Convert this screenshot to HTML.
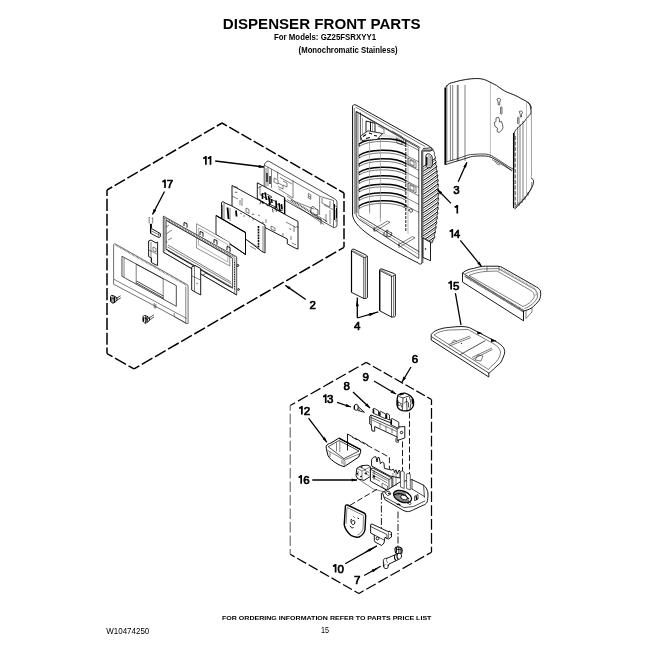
<!DOCTYPE html>
<html><head><meta charset="utf-8"><style>
html,body{margin:0;padding:0;background:#fff;}
body{width:650px;height:650px;overflow:hidden;position:relative;}
svg{position:absolute;left:0;top:0;filter:grayscale(1) blur(0.35px);}
text{font-family:"Liberation Sans",sans-serif;fill:#000;}
.l{fill:none;stroke:#000;stroke-width:0.9;stroke-linejoin:round;stroke-linecap:round;}
.m{fill:none;stroke:#000;stroke-width:0.7;stroke-linejoin:round;stroke-linecap:round;}
.t{fill:none;stroke:#000;stroke-width:0.5;}
.g{fill:none;stroke:#777;stroke-width:0.6;}
.w{fill:#fff;stroke:#000;stroke-width:0.9;stroke-linejoin:round;}
.k{fill:#000;stroke:none;}
.d{fill:none;stroke:#000;stroke-width:1.5;stroke-dasharray:11,3;}
.dd{fill:none;stroke:#000;stroke-width:0.9;stroke-dasharray:6,2.5;}
.dc{fill:none;stroke:#000;stroke-width:0.9;stroke-dasharray:7,2,1.5,2;}
.a{fill:none;stroke:#000;stroke-width:1.3;}
.n{font-size:11.5px;stroke:#000;stroke-width:0.7;}
</style></head><body>
<svg width="650" height="650" viewBox="0 0 650 650">
<defs>
<marker id="ah" viewBox="0 0 10 6" refX="10" refY="3" markerWidth="8" markerHeight="3.2" orient="auto" markerUnits="userSpaceOnUse"><path d="M0,0 L10,3 L0,6 Z" fill="#000"/></marker>
</defs>
<g id="text">
<text x="222.8" y="29" font-size="14.7" font-weight="bold" textLength="197.8" lengthAdjust="spacingAndGlyphs">DISPENSER FRONT PARTS</text>
<text x="274" y="40.4" font-size="8.7" font-weight="bold" textLength="102" lengthAdjust="spacingAndGlyphs">For Models: GZ25FSRXYY1</text>
<text x="298.6" y="53.4" font-size="8.7" font-weight="bold" textLength="99" lengthAdjust="spacingAndGlyphs">(Monochromatic Stainless)</text>
<text x="222" y="619.8" font-size="6.2" font-weight="bold" textLength="209.4" lengthAdjust="spacingAndGlyphs">FOR ORDERING INFORMATION REFER TO PARTS PRICE LIST</text>
<text x="106.3" y="633.5" font-size="8.5" textLength="43" lengthAdjust="spacingAndGlyphs">W10474250</text>
<text x="321" y="633.3" font-size="8.5" textLength="8" lengthAdjust="spacingAndGlyphs">15</text>
</g>
<g id="labels"><path d="M205.90,164.7 L205.90,156.00 M205.90,156.60 C205.40,157.60 204.00,158.20 203.20,158.30" stroke="#000" stroke-width="1.7" fill="none"/><path d="M210.50,164.7 L210.50,156.00 M210.50,156.60 C210.00,157.60 208.60,158.20 207.80,158.30" stroke="#000" stroke-width="1.7" fill="none"/><path d="M165.00,188.1 L165.00,179.40 M165.00,180.00 C164.50,181.00 163.10,181.60 162.30,181.70" stroke="#000" stroke-width="1.7" fill="none"/><text class="n" x="166.75" y="188.1">7</text><text class="n" x="309.55" y="309.2">2</text><text class="n" x="453.25" y="193.7">3</text><path d="M457.30,213.6 L457.30,204.90 M457.30,205.50 C456.80,206.50 455.40,207.10 454.60,207.20" stroke="#000" stroke-width="1.7" fill="none"/><path d="M452.30,237.8 L452.30,229.10 M452.30,229.70 C451.80,230.70 450.40,231.30 449.60,231.40" stroke="#000" stroke-width="1.7" fill="none"/><text class="n" x="453.65" y="237.8">4</text><path d="M451.10,289.5 L451.10,280.80 M451.10,281.40 C450.60,282.40 449.20,283.00 448.40,283.10" stroke="#000" stroke-width="1.7" fill="none"/><text class="n" x="453.05" y="289.5">5</text><text class="n" x="353.95" y="330.0">4</text><text class="n" x="411.85" y="363.0">6</text><text class="n" x="362.45" y="381.0">9</text><text class="n" x="343.45" y="390.0">8</text><path d="M325.70,403.0 L325.70,394.30 M325.70,394.90 C325.20,395.90 323.80,396.50 323.00,396.60" stroke="#000" stroke-width="1.7" fill="none"/><text class="n" x="327.05" y="403.0">3</text><path d="M301.90,414.6 L301.90,405.90 M301.90,406.50 C301.40,407.50 300.00,408.10 299.20,408.20" stroke="#000" stroke-width="1.7" fill="none"/><text class="n" x="303.65" y="414.6">2</text><path d="M301.20,483.8 L301.20,475.10 M301.20,475.70 C300.70,476.70 299.30,477.30 298.50,477.40" stroke="#000" stroke-width="1.7" fill="none"/><text class="n" x="303.25" y="483.8">6</text><path d="M335.60,572.6 L335.60,563.90 M335.60,564.50 C335.10,565.50 333.70,566.10 332.90,566.20" stroke="#000" stroke-width="1.7" fill="none"/><text class="n" x="337.45" y="572.6">0</text><text class="n" x="354.05" y="583.7">7</text></g>
<g id="dash"><path d="M222,123 L344,193" fill="none" stroke="#000" stroke-width="1.5" stroke-dasharray="11.405,2.661" stroke-dashoffset="5.702"/><path d="M344,193 L344,247.3" fill="none" stroke="#000" stroke-width="1.5" stroke-dasharray="11.007,2.568" stroke-dashoffset="5.503"/><path d="M344,247.3 L134,368.9" fill="none" stroke="#000" stroke-width="1.5" stroke-dasharray="12.297,2.869" stroke-dashoffset="6.149"/><path d="M134,368.9 L107,353.6" fill="none" stroke="#000" stroke-width="1.5" stroke-dasharray="12.581,2.936" stroke-dashoffset="6.291"/><path d="M107,353.6 L107,190" fill="none" stroke="#000" stroke-width="1.5" stroke-dasharray="12.059,2.814" stroke-dashoffset="6.029"/><path d="M107,190 L222,123" fill="none" stroke="#000" stroke-width="1.5" stroke-dasharray="11.990,2.798" stroke-dashoffset="5.995"/><path d="M366.2,362.4 L431.5,399.5" fill="none" stroke="#000" stroke-width="1.25" stroke-dasharray="9.736,2.782" stroke-dashoffset="4.868"/><path d="M431.5,399.5 L431.5,552.2" fill="none" stroke="#000" stroke-width="1.25" stroke-dasharray="10.797,3.085" stroke-dashoffset="5.398"/><path d="M431.5,552.2 L358.9,593.5" fill="none" stroke="#000" stroke-width="1.25" stroke-dasharray="10.827,3.094" stroke-dashoffset="5.414"/><path d="M358.9,593.5 L290.2,554.3" fill="none" stroke="#000" stroke-width="1.25" stroke-dasharray="10.253,2.930" stroke-dashoffset="5.127"/><path d="M290.2,405.5 L366.2,362.4" fill="none" stroke="#000" stroke-width="1.25" stroke-dasharray="11.326,3.236" stroke-dashoffset="5.663"/><path d="M290.2,554.3 L290.2,405.5" fill="none" stroke="#666" stroke-width="1.1" stroke-dasharray="10.521,3.006" stroke-dashoffset="5.261"/></g>
<g id="arrows" class="a" marker-end="url(#ah)">
<path d="M215.2,161 L264,167"/>
<path d="M164.5,191.5 L152.5,214.5"/>
<path d="M305.8,299.5 L285.4,285.4"/>
<path d="M458.2,181.7 L466.9,162.3"/>
<path d="M451,203.4 L437.4,189.5"/>
<path d="M460.3,240.3 L481.8,266.8"/>
<path d="M455.4,293.2 L461,325" marker-end="none"/>
<path d="M357.3,318 L357.3,297.5" marker-end="none"/><path d="M357.3,306 L357.3,301" />
<path d="M357.3,318 L378.3,311.8" marker-end="none"/><path d="M368.5,315 L374.5,313.2" />
<path d="M411,367 L402,382"/>
<path d="M374,381 L396,394"/>
<path d="M353,392 L370,408"/>
<path d="M337,402.4 L351,407"/>
<path d="M308.5,418.2 L326.9,442.3"/>
<path d="M312.3,480 L357,480"/>
<path d="M345.2,563.7 L376.9,545.9" marker-end="none"/><path d="M366,551.9 L373.5,547.8"/>
<path d="M364.2,575.5 L380.7,566.2" marker-end="none"/><path d="M371,571.7 L377.3,568.2"/>
</g>
<g id="p1"><path class="w" d="M352.5,107 C352.5,105 354,104.2 356,105 L429,146 C431.5,147.5 433,149.5 431,151 L422,151 L422,263 C421.5,264.5 420,264.5 418.2,263 C404,256 390,248.5 375,238.9 C362,230.5 352.5,222 352.5,214 Z"/><path fill="#b0b0b0" stroke="none" d="M355.6,111.5 L358.8,113.5 L358.8,214 L355.6,212 Z"/><path class="m" d="M356,112 L356,213 C356,216 357.5,218.5 360,220 L418.8,258.5 L418.8,148.5 Z"/><path class="t" d="M354.3,108 L354.3,214 M355.5,107 L425,146.5"/><path fill="#e4e4e4" stroke="none" d="M358.5,144 C366,137 378,135.5 386,137 C395,138.5 402,142 406,146 L406,141 L396,136 L380,133 L366,135 Z"/><path fill="none" stroke="#000" stroke-width="1.45" d="M359,144 C367,137.5 396,136.5 406.5,144"/><path fill="none" stroke="#555" stroke-width="0.8" d="M359,146.6 C367,140.1 396,139.1 406.5,146.6"/><path class="t" d="M406.5,144 L419,150.5"/><path fill="none" stroke="#000" stroke-width="0.8" d="M360,143.5 C358.5,144 358.5,146 360,146.3"/><path fill="none" stroke="#000" stroke-width="1.45" d="M359,155.5 C367,149.0 396,148.0 406.5,155.5"/><path fill="none" stroke="#555" stroke-width="0.8" d="M359,158.1 C367,151.6 396,150.6 406.5,158.1"/><path class="t" d="M406.5,155.5 L419,162.0"/><path fill="none" stroke="#000" stroke-width="0.8" d="M360,155.0 C358.5,155.5 358.5,157.5 360,157.8"/><path fill="none" stroke="#000" stroke-width="1.45" d="M359,164 C367,157.5 396,156.5 406.5,164"/><path fill="none" stroke="#555" stroke-width="0.8" d="M359,166.6 C367,160.1 396,159.1 406.5,166.6"/><path class="t" d="M406.5,164 L419,170.5"/><path fill="none" stroke="#000" stroke-width="0.8" d="M360,163.5 C358.5,164 358.5,166 360,166.3"/><path fill="none" stroke="#000" stroke-width="1.45" d="M359,172.5 C367,166.0 396,165.0 406.5,172.5"/><path fill="none" stroke="#555" stroke-width="0.8" d="M359,175.1 C367,168.6 396,167.6 406.5,175.1"/><path class="t" d="M406.5,172.5 L419,179.0"/><path fill="none" stroke="#000" stroke-width="0.8" d="M360,172.0 C358.5,172.5 358.5,174.5 360,174.8"/><path fill="none" stroke="#000" stroke-width="1.45" d="M359,181 C367,174.5 396,173.5 406.5,181"/><path fill="none" stroke="#555" stroke-width="0.8" d="M359,183.6 C367,177.1 396,176.1 406.5,183.6"/><path class="t" d="M406.5,181 L419,187.5"/><path fill="none" stroke="#000" stroke-width="0.8" d="M360,180.5 C358.5,181 358.5,183 360,183.3"/><path fill="none" stroke="#000" stroke-width="1.45" d="M359,189.5 C367,183.0 396,182.0 406.5,189.5"/><path fill="none" stroke="#555" stroke-width="0.8" d="M359,192.1 C367,185.6 396,184.6 406.5,192.1"/><path class="t" d="M406.5,189.5 L419,196.0"/><path fill="none" stroke="#000" stroke-width="0.8" d="M360,189.0 C358.5,189.5 358.5,191.5 360,191.8"/><path fill="none" stroke="#000" stroke-width="1.45" d="M359,198 C367,191.5 396,190.5 406.5,198"/><path fill="none" stroke="#555" stroke-width="0.8" d="M359,200.6 C367,194.1 396,193.1 406.5,200.6"/><path class="t" d="M406.5,198 L419,204.5"/><path fill="none" stroke="#000" stroke-width="0.8" d="M360,197.5 C358.5,198 358.5,200 360,200.3"/><path fill="none" stroke="#000" stroke-width="1.45" d="M359,206 C367,199.5 396,198.5 406.5,206"/><path fill="none" stroke="#555" stroke-width="0.8" d="M359,208.6 C367,202.1 396,201.1 406.5,208.6"/><path class="t" d="M406.5,206 L419,212.5"/><path fill="none" stroke="#000" stroke-width="0.8" d="M360,205.5 C358.5,206 358.5,208 360,208.3"/><path fill="none" stroke="#999" stroke-width="0.7" d="M369.6,140 L369.6,214 M380.4,138 L380.4,222 M408,141 L408,234"/><path fill="none" stroke="#000" stroke-width="0.9" stroke-dasharray="3,1" d="M405.8,140 L405.8,232"/><path class="m" d="M360.4,113 L360.4,140 M356.5,111.5 L420,147.5"/><path fill="none" stroke="#000" stroke-width="0.9" d="M366,121 L366,132 M370.5,121.5 L370.5,131 M375,123.3 L375,132 M366,121 L375,123.3"/><path fill="none" stroke="#999" stroke-width="0.8" d="M362.5,118 L362.5,134 M372.5,123 L372.5,131"/><path fill="#fff" stroke="#000" stroke-width="0.8" d="M360.5,136 L368,130.8 L382.6,133.5 L377,139.5 L362,140.5 Z"/><path fill="none" stroke="#000" stroke-width="1.1" d="M363,136.5 L366,134.5 M369,133 L372,134 M374,135.5 L377,136 M366,138.5 L370,137.5"/><path class="t" d="M378,126 L384,129 L384,134 M392,131 L402,136.5 L404,141 M396,138 L402,141 L402,145 L397,143 Z"/><path class="t" d="M408,158 L416,162 L416,168 L408,164 Z M410,160 L414,162 L414,166 L410,164 Z"/><path class="t" d="M408,183 L416,187 L416,193 L408,189 Z M410,185 L414,187 L414,191 L410,189 Z"/><path class="m" d="M358.8,215.5 L418.8,251.5"/><path class="g" d="M360,218.5 L418.8,254.5 M358.8,206 L358.8,215 M369.6,203 L369.6,212 M380.4,202 L380.4,218"/><path class="t" d="M373,229.5 L387.5,221 L390,222.3 L375.5,231 Z M374.2,227 L374.2,232 M398,245 L412.5,236.5 L415,237.8 L400.5,246.5 Z M399,242.5 L399,248"/><path class="m" d="M384,233 C385,230.5 388,230 389.5,232 L392,233 L391,236 C389,237.5 386,237 384,235 Z M387,230 L387,236"/><path class="m" d="M404,207 C405,205 407,205.5 407,207.5 M409,210 C410,208 413,208.5 412.5,211 C412,213 409.5,212.5 409,210 Z"/><defs><clipPath id="gc"><path d="M422,150 L432.5,150 Q435.7,152.3 434.2,154.7 Q436.4,157.1 434.9,159.4 Q437.1,161.8 435.6,164.1 Q437.7,166.4 436.2,168.8 Q438.3,171.2 436.8,173.5 Q438.8,175.8 437.3,178.2 Q439.1,180.6 437.6,182.9 Q439.4,185.2 437.9,187.6 Q439.5,189.9 438.0,192.3 Q439.5,194.7 438.0,197.0 Q439.5,199.3 437.9,201.7 Q439.4,204.1 437.7,206.4 Q439.2,208.8 437.3,211.1 Q438.8,213.4 436.9,215.8 Q438.4,218.2 436.3,220.5 Q437.8,222.8 435.7,225.2 Q437.2,227.6 435.0,229.9 Q436.5,232.2 434.3,234.6 Q435.8,237.0 433.5,239.3 L432,243 L422,238 Z"/></clipPath></defs><g clip-path="url(#gc)"><path fill="none" stroke="#000" stroke-width="1.0" d="M421,168.0 C426,165.0 432,161.0 437,157.0 C438.5,156.0 439.5,157.0 440,159.0"/><path fill="none" stroke="#444" stroke-width="0.7" d="M421,170.2 C426,167.2 432,163.2 440,156.2"/><path fill="none" stroke="#000" stroke-width="1.0" d="M421,172.6 C426,169.6 432,165.6 437,161.6 C438.5,160.6 439.5,161.6 440,163.6"/><path fill="none" stroke="#444" stroke-width="0.7" d="M421,174.79999999999998 C426,171.79999999999998 432,167.79999999999998 440,160.79999999999998"/><path fill="none" stroke="#000" stroke-width="1.0" d="M421,177.2 C426,174.2 432,170.2 437,166.2 C438.5,165.2 439.5,166.2 440,168.2"/><path fill="none" stroke="#444" stroke-width="0.7" d="M421,179.39999999999998 C426,176.39999999999998 432,172.39999999999998 440,165.39999999999998"/><path fill="none" stroke="#000" stroke-width="1.0" d="M421,181.8 C426,178.8 432,174.8 437,170.8 C438.5,169.8 439.5,170.8 440,172.8"/><path fill="none" stroke="#444" stroke-width="0.7" d="M421,184.0 C426,181.0 432,177.0 440,170.0"/><path fill="none" stroke="#000" stroke-width="1.0" d="M421,186.4 C426,183.4 432,179.4 437,175.4 C438.5,174.4 439.5,175.4 440,177.4"/><path fill="none" stroke="#444" stroke-width="0.7" d="M421,188.6 C426,185.6 432,181.6 440,174.6"/><path fill="none" stroke="#000" stroke-width="1.0" d="M421,191.0 C426,188.0 432,184.0 437,180.0 C438.5,179.0 439.5,180.0 440,182.0"/><path fill="none" stroke="#444" stroke-width="0.7" d="M421,193.2 C426,190.2 432,186.2 440,179.2"/><path fill="none" stroke="#000" stroke-width="1.0" d="M421,195.6 C426,192.6 432,188.6 437,184.6 C438.5,183.6 439.5,184.6 440,186.6"/><path fill="none" stroke="#444" stroke-width="0.7" d="M421,197.79999999999998 C426,194.79999999999998 432,190.79999999999998 440,183.79999999999998"/><path fill="none" stroke="#000" stroke-width="1.0" d="M421,200.2 C426,197.2 432,193.2 437,189.2 C438.5,188.2 439.5,189.2 440,191.2"/><path fill="none" stroke="#444" stroke-width="0.7" d="M421,202.39999999999998 C426,199.39999999999998 432,195.39999999999998 440,188.39999999999998"/><path fill="none" stroke="#000" stroke-width="1.0" d="M421,204.8 C426,201.8 432,197.8 437,193.8 C438.5,192.8 439.5,193.8 440,195.8"/><path fill="none" stroke="#444" stroke-width="0.7" d="M421,207.0 C426,204.0 432,200.0 440,193.0"/><path fill="none" stroke="#000" stroke-width="1.0" d="M421,209.4 C426,206.4 432,202.4 437,198.4 C438.5,197.4 439.5,198.4 440,200.4"/><path fill="none" stroke="#444" stroke-width="0.7" d="M421,211.6 C426,208.6 432,204.6 440,197.6"/><path fill="none" stroke="#000" stroke-width="1.0" d="M421,214.0 C426,211.0 432,207.0 437,203.0 C438.5,202.0 439.5,203.0 440,205.0"/><path fill="none" stroke="#444" stroke-width="0.7" d="M421,216.2 C426,213.2 432,209.2 440,202.2"/><path fill="none" stroke="#000" stroke-width="1.0" d="M421,218.6 C426,215.6 432,211.6 437,207.6 C438.5,206.6 439.5,207.6 440,209.6"/><path fill="none" stroke="#444" stroke-width="0.7" d="M421,220.79999999999998 C426,217.79999999999998 432,213.79999999999998 440,206.79999999999998"/><path fill="none" stroke="#000" stroke-width="1.0" d="M421,223.2 C426,220.2 432,216.2 437,212.2 C438.5,211.2 439.5,212.2 440,214.2"/><path fill="none" stroke="#444" stroke-width="0.7" d="M421,225.39999999999998 C426,222.39999999999998 432,218.39999999999998 440,211.39999999999998"/><path fill="none" stroke="#000" stroke-width="1.0" d="M421,227.8 C426,224.8 432,220.8 437,216.8 C438.5,215.8 439.5,216.8 440,218.8"/><path fill="none" stroke="#444" stroke-width="0.7" d="M421,230.0 C426,227.0 432,223.0 440,216.0"/><path fill="none" stroke="#000" stroke-width="1.0" d="M421,232.39999999999998 C426,229.39999999999998 432,225.39999999999998 437,221.39999999999998 C438.5,220.39999999999998 439.5,221.39999999999998 440,223.39999999999998"/><path fill="none" stroke="#444" stroke-width="0.7" d="M421,234.59999999999997 C426,231.59999999999997 432,227.59999999999997 440,220.59999999999997"/><path fill="none" stroke="#000" stroke-width="1.0" d="M421,237.0 C426,234.0 432,230.0 437,226.0 C438.5,225.0 439.5,226.0 440,228.0"/><path fill="none" stroke="#444" stroke-width="0.7" d="M421,239.2 C426,236.2 432,232.2 440,225.2"/><path fill="none" stroke="#000" stroke-width="1.0" d="M421,241.6 C426,238.6 432,234.6 437,230.6 C438.5,229.6 439.5,230.6 440,232.6"/><path fill="none" stroke="#444" stroke-width="0.7" d="M421,243.79999999999998 C426,240.79999999999998 432,236.79999999999998 440,229.79999999999998"/><path fill="none" stroke="#000" stroke-width="1.0" d="M421,246.2 C426,243.2 432,239.2 437,235.2 C438.5,234.2 439.5,235.2 440,237.2"/><path fill="none" stroke="#444" stroke-width="0.7" d="M421,248.39999999999998 C426,245.39999999999998 432,241.39999999999998 440,234.39999999999998"/><path fill="none" stroke="#000" stroke-width="1.0" d="M421,250.8 C426,247.8 432,243.8 437,239.8 C438.5,238.8 439.5,239.8 440,241.8"/><path fill="none" stroke="#444" stroke-width="0.7" d="M421,253.0 C426,250.0 432,246.0 440,239.0"/><path fill="none" stroke="#000" stroke-width="1.0" d="M421,255.39999999999998 C426,252.39999999999998 432,248.39999999999998 437,244.39999999999998 C438.5,243.39999999999998 439.5,244.39999999999998 440,246.39999999999998"/><path fill="none" stroke="#444" stroke-width="0.7" d="M421,257.59999999999997 C426,254.59999999999997 432,250.59999999999997 440,243.59999999999997"/></g><path fill="none" stroke="#000" stroke-width="0.7" d="M422,150 L432.5,150 Q435.7,152.3 434.2,154.7 Q436.4,157.1 434.9,159.4 Q437.1,161.8 435.6,164.1 Q437.7,166.4 436.2,168.8 Q438.3,171.2 436.8,173.5 Q438.8,175.8 437.3,178.2 Q439.1,180.6 437.6,182.9 Q439.4,185.2 437.9,187.6 Q439.5,189.9 438.0,192.3 Q439.5,194.7 438.0,197.0 Q439.5,199.3 437.9,201.7 Q439.4,204.1 437.7,206.4 Q439.2,208.8 437.3,211.1 Q438.8,213.4 436.9,215.8 Q438.4,218.2 436.3,220.5 Q437.8,222.8 435.7,225.2 Q437.2,227.6 435.0,229.9 Q436.5,232.2 434.3,234.6 Q435.8,237.0 433.5,239.3 L432,243 L422,238 Z"/><path d="M422.6,150 L422.6,263" stroke="#666" stroke-width="1.5" fill="none"/><path class="w" d="M423,238 L430.5,242.4 L430.5,260.7 L423,257.5 Z"/><circle cx="425.5" cy="249" r="0.8" class="k"/><path fill="#fff" stroke="#000" stroke-width="0.9" d="M425.9,156 C426,153.8 428,153.5 429.5,154 C431.5,154.8 432.3,156.5 432.3,158.5 L432.3,164.5 C432.2,166.8 430.5,167.8 428.5,167.7 C427,167.5 426,166.5 425.9,165 Z"/><path d="M426.8,157 L426.8,165.5" stroke="#000" stroke-width="1.4" fill="none"/><path class="t" d="M429,155 L429,167 M430.8,156 L430.8,166"/><path fill="none" stroke="#000" stroke-width="0.8" d="M423,148.5 L430.5,147.8 C432,148.2 433.2,149 433.2,150.5"/></g>
<g id="p3"><path fill="#fff" stroke="#999" stroke-width="0.6" d="M445.8,87 C448,84 450,83 453.5,82.3 C458,81 462,80 465.8,79.5 C470,78.8 474,78.4 478,78.5 C482,78.8 485,79.5 487.3,80.8 C491,82.5 493.5,84 496.5,85.4 C500,88 504,91 507.3,92.3 C512,94 517,96 521,98.5 C525,100.5 528,102 529.5,104 C530.8,105.5 531.3,107 531.3,108.5 L531.5,176 L530.8,177.7 L533.5,180 C534,184 532,188 529,192 C525,198 520,204 514.6,209.2 L513.4,206 L513.4,171 C509,168 503,164 497,160.5 C493,158 489,156 485.8,156 C478,155.8 472,156.2 470.4,156.9 C465,158.5 462,159.8 458,160.8 C452,162.5 448,163.8 445.8,164.6 Z"/><path fill="none" stroke="#000" stroke-width="0.8" d="M528,102 C530,104 530.5,107 530.8,109 C531,111 531.3,112.5 530.5,113.8 M531,113.5 C528,116.5 526,119 524,122 C521,125 518.5,127 517,128.5 C515.5,130 514.8,131.5 514.2,133 L513.6,171"/><path fill="none" stroke="#000" stroke-width="0.7" d="M445.8,164.6 C448,163.8 452,162.5 458,160.8 C462,159.8 465,158.5 470.4,156.9 C472,156.2 478,155.8 485.8,156 C489,156 493,158 497,160.5 C503,164 507,167 511.5,170.8"/><path fill="none" stroke="#000" stroke-width="0.7" d="M514.6,209.2 C520,204 525,198 529,192 C532,188 534,184 533.5,180 L531,177.7"/><path d="M445.3,87.5 L445.3,164.8" stroke="#000" stroke-width="1.8" fill="none"/><path class="t" d="M446.9,85 L446.9,161"/><path class="t" d="M450.4,85 L450.4,161"/><path class="t" d="M452.7,85 L452.7,161"/><path class="t" d="M457.3,85 L457.3,161"/><path class="t" d="M458.2,85 L458.2,161"/><path class="t" d="M465,85 L465,161"/><path fill="none" stroke="#888" stroke-width="0.55" d="M490.4,82 L490.4,156 M526.5,102 L526.5,196 M531.5,113 L531.5,176"/><path class="m" d="M445.8,162 C450,161 455,159.5 458,158.5 C463,157 467,155 470.4,154.6 C476,154 481,153.8 485.8,154 C490,154.5 493,156.5 497,159 C502,162 507,166 513,169"/><path class="t" d="M492,159.5 C495,161 498,162.5 501,164.3 L512,170.5 M495,161 L497,164 L500,165"/><path fill="none" stroke="#000" stroke-width="0.6" d="M497,99.5 C496.8,98 500.8,98 500.6,99.8 L499.7,102 L499.7,104.8 L498.2,104.8 L498.2,102 Z"/><path fill="none" stroke="#000" stroke-width="0.6" d="M500.6,107.5 C500.6,106.5 502,106.5 502,107.5 L502,113.5 C502,114.5 500.6,114.5 500.6,113.5 Z"/><path fill="none" stroke="#000" stroke-width="0.6" d="M496,118 L498.5,117.2 L499.3,119 L499.5,122 L501.5,121.5 L502.5,124.5 L503,128 L501.5,130.5 L499,132.5 L497,131.5 L497.5,128 L495,126.5 L494.3,122.5 L496,121.5 Z"/><path fill="none" stroke="#000" stroke-width="0.6" d="M519.2,111.5 C519.5,110.5 522.8,111 522.5,112.5 L521.5,114.5 L521.5,117 L520.3,117 L520.3,114.5 Z M517.6,118 C517.6,117 519,117 519,118 L519,123 C519,124 517.6,124 517.6,123 Z"/><path class="t" d="M517.7,127 L517.7,205 M520,124 L520,203 M523,121 L523,200"/><path d="M513.6,133 L513.6,208" stroke="#000" stroke-width="1.3" fill="none"/><path d="M515.2,136 L515.2,205" stroke="#333" stroke-width="0.9" stroke-dasharray="4,1.5" fill="none"/><path fill="none" stroke="#000" stroke-width="0.8" d="M445.8,87 C448,84 450,83 453.5,82.3 C458,81 462,80 465.8,79.5 C470,78.8 474,78.4 478,78.5 C482,78.8 485,79.5 487.3,80.8 C491,82.5 493.5,84 496.5,85.4 C500,88 504,91 507.3,92.3 C512,94 517,96 521,98.5 C525,100.5 528,102 529.5,104 C530.8,105.5 531.3,107 531.3,108.5"/><path class="t" d="M515,207 C521,203 527,197 530,191 C531.5,188 532,185 531.8,182 M516,204 L516,208 M519,202 L519,206 M522,199 L522,203 M525,196 L525,200 M528,192 L528,196"/></g>
<g id="p14"><path class="w" d="M462.5,273 C466,270 470,268.8 473.5,268.5 C478,267 482,266.2 485.8,266.2 L498,266.2 C500,266.5 501.5,267 502.7,267.7 L536.5,287 C539,288.5 540.6,290 540.6,292 C541,295 540.5,298 538.8,300.8 C536,304 534,306 532,307.7 C529,309.5 526,310.5 523.5,311 L523.5,320.8 L462.5,282 Z"/><path class="m" d="M462.5,273 L523.5,311"/><path class="t" d="M465,274 C470,271.5 476,270 482,269 L498,268.5 L534,289 C537,291 538,293.5 537.5,297 C535.5,302 531,306 524.5,308.5 M466.5,277 L524,312.5"/><path class="t" d="M469,275.5 C475,273 480,272 485,271.5 L497,271 L531,290.5 C534,292.5 534.5,295 534,297.5 C532,301.5 528,304.5 523,306.5 L469,275.5"/><path d="M465,276 L523.5,310.8" stroke="#666" stroke-width="2.6" fill="none" stroke-dasharray="1,0.6"/><path d="M501,269 L534,288 C536.5,290 537,293 536,296" stroke="#999" stroke-width="1.8" fill="none" stroke-dasharray="0.8,0.8"/><path class="t" d="M523.5,311 L523.5,320.8 M526,309.8 L526,318.5 L532,312 L532,308"/><path class="t" d="M499,266.2 L499,271 M487,266.5 L487,271"/></g>
<g id="p15"><path class="w" d="M431.2,334.6 C433,332 435,331 437.3,330 C441,328.5 445,327.6 449.6,327.4 C454,326.8 458,326.5 461.9,326.5 C465,326.7 467.5,327 469.6,327.7 L497.3,342.3 C500,344 502,345.5 503.5,347.7 C505,350.5 505,352.5 504.2,354.6 C503,358 502,360.5 500.4,363 C497,366 494.5,368 492.7,370 C491,371.5 490,372.3 488.8,373 L488.8,377 L431.2,340 Z"/><path class="m" d="M432,337 L488.8,373"/><path class="t" d="M434,335 C438,332 443,330.5 449,330 L468,329.5 L494,344 C498,346.5 500,349 500.5,352 C500.5,357 497,362 491,366.5 L488.5,369.5 M434,335 L488.5,369.5"/><path class="m" d="M460.4,354.6 L485,340.8"/><path class="t" d="M448.6,344.5 L470,336 M449.5,346 L471,337.5 M452,343 L454,340 L457,341.5 M472,357.5 L492,348 M473,359 L492.5,349.5 M475,360 L478,355 L483,356 L481,361 Z"/><circle cx="461.5" cy="343.5" r="0.6" class="k"/><path d="M477,331.2 L482.8,333.2 L477.5,334.6 Z M490.8,338.6 L496.6,340.8 L491.2,342.2 Z" class="k"/></g>
<g id="p4"><path class="w" d="M351.5,251 C351.5,249.5 352.5,248.8 354,249.2 L366,255 C367,255.5 367.4,256.3 367.4,257.2 L367.4,297 C367.4,298 366.5,298.6 365.5,298.5 L363.8,298.5 L351.5,292.3 Z"/><path class="m" d="M351.5,251 L363.8,257.7 L367.4,256.5 M363.8,257.7 L363.8,298.5"/><path class="t" d="M365.5,257 L365.5,298 M352.5,250.5 L364,256.5"/><path d="M351.5,251 L351.5,292.3" stroke="#000" stroke-width="1.2"/><path class="w" d="M379.7,270.5 C379.7,269 380.6,268.5 382,269 L394,273.5 C395,274 395.4,274.8 395.4,275.7 L395.4,315.5 C395.4,316.5 394.5,317 393.5,317 L391.5,317 L379.7,310.8 Z"/><path class="m" d="M379.7,270.5 L391.5,276.5 L395.4,275 M391.5,276.5 L391.5,317"/><path class="t" d="M393.5,275.8 L393.5,316.5 M380.6,269.8 L392,275.5"/><path d="M379.7,270.5 L379.7,310.8" stroke="#000" stroke-width="1.2"/></g>
<g id="p2"><path fill="#fff" stroke="#000" stroke-width="0.7" d="M264.2,166 C264.5,163 266.5,161 268.5,161 L334,198.5 C335.8,199.5 336.8,200.5 337,202 L337,226 L334,228 L332.6,227 L314,216.5 L293,205 L264.2,188 Z"/><path fill="none" stroke="#000" stroke-width="0.55" d="M264.5,165.2 L320.4,196.5 L333.5,200.5 L333.5,227"/><path class="t" d="M268,167 L268,186 M271.5,169 L271.5,188 M266,168 L266,187 M277.7,171.8 L277.7,178.8 M274,178 L278,180 L278,184 L274,182 Z M278,183 L283,185.5 L283,189 L278,186.5 M278.5,188.8 L293,198 L293,180.3 M283,181 L287,183 L287,187 L283,185 M280,177.5 L292,184"/><path d="M267,173 L267,182 M270,176 L270,184" stroke="#000" stroke-width="1.3" fill="none"/><path class="t" d="M295,201.5 L314.2,209.2 M295,204.6 L324.2,224.6 M287,196 L295,201.5 M287,199.5 L295,204.6"/><path d="M291,200 L322,219" stroke="#444" stroke-width="1.8" stroke-dasharray="1,0.7" fill="none"/><path class="t" d="M319.6,196.5 L319.6,215 M322,198 L322,203 L330,207 L330,201 M324,205 L333,209.5 M330,210 L330,224 M326,214 L326,222 M333.5,205 L337,207 M336,210 L336,222"/><path d="M334.5,204 L334.5,220 M336.5,208 L336.5,218" stroke="#000" stroke-width="1" fill="none"/><path class="m" d="M311,208 C311,206 314,206 315,208.5 L318,210 L318,214.5 C316,216 313,215 311,213 Z M316,217 L321,219.5 L321,224 M323,219 L327,221.5"/><path class="t" d="M308.3,193.5 L310.8,194.8 L310.8,199.3 L308.3,198 Z M308.3,196 L310.8,197.3"/><path class="w" d="M257.3,182.8 L284.6,197.4 L284.6,214 L257.3,199 Z"/><path d="M284.6,198 L284.6,214.5" stroke="#000" stroke-width="1.4" fill="none"/><path class="t" d="M260,186 L260,195 M258,188 L262,186"/><path class="w" d="M232,185.4 L298,221.5 L298,249.2 L294,247.5 L287.3,243.8 L287.3,239 L262,226 L232,210 Z"/><path class="t" d="M233.5,188 L235.5,186.5 L238,188 M235,193 C235,191.5 237,191.5 237,193 M240,200 L240,205 M242,198 L242,206 M246,208 L246,212 L249,213.5 L249,209.5 Z M258,215 L260,216 M252,215 C252,213.5 254,213.5 254,215 M262,222 L264,223 M266,219 L266,223 M271,226 L275,228 L275,231 L271,229 Z M283,233 L283,236 M291,236 L291,240 M294,226 L294,232 M289,229 C290,228 291,229 290.5,230"/><path class="t" d="M232,196 L238,199 M286,222 L296,227.5 M292,243 L296,245"/><path class="t" d="M296,227 C297,226 298.5,226.5 298,228"/><path d="M262.5,193 L262.5,199 M265,192.5 L266.5,200 M268.5,196 L270,204.5 M271.5,199 L272,203 M276,200.5 L276.5,208 M279,203 L280,211 M281.5,204 L282,209" stroke="#000" stroke-width="1.5" fill="none"/><path class="m" d="M261,195 L265,193 L272,197 L268,199 Z M270,199 L276,201.5 L276,207 L271,205 Z M277,204 L282,206.5 L282,211 L277,208.5 Z M258.5,199 L261,200.5 L260,204 M266.5,205 L268,206 M272.5,209 L273,212 M275,210 C276,209 277,210 276.5,211.5"/><path class="k" d="M262,201 L264,202 L263.5,204 L261.5,203 Z M268,203 L270,204 L269.5,206 Z M274,206.5 L276,207.5 L275.5,209.5 Z"/><path class="w" d="M221.5,202.5 L223,201.5 L225,203 L232,206 L265,225 L265,253 L262,251.5 L247,240 L221.5,226 Z"/><path d="M227.5,207.5 L228.5,219 M236,210.5 L236.5,216.5" stroke="#000" stroke-width="1.8" fill="none"/><path class="t" d="M222.5,205 L222.5,226 M224,203 L224,227 M230,208 L230,221 M240,213 L242,214 M244,215 L244,217 M248,216 C249,215 250,216 249.5,217.5 M252,219 C253,218 254,219 253,220.5 M263,226 L263,252"/><path d="M258.5,226 L258.5,249" stroke="#000" stroke-width="1.6" stroke-dasharray="2,0.8" fill="none"/><path class="t" d="M248,241 L258,247 M250,246 L256,249.5"/><path class="w" d="M216,215.5 L245.5,232.5 L245.5,254.5 L216,234.5 Z"/><path d="M216.3,216 L216.3,234.5" stroke="#999" stroke-width="1" fill="none"/><path d="M245.5,232.5 L245.5,254.5 L216.5,234.7" stroke="#000" stroke-width="1" fill="none"/><path d="M216,215.5 L245.5,232.5" stroke="#000" stroke-width="1.1" fill="none"/><path fill="#fff" stroke="#444" stroke-width="0.6" d="M196.6,223.7 L229.8,242.4 L229.8,266 L196.6,248 Z"/><path fill="none" stroke="#666" stroke-width="0.5" d="M198.6,227.9 L227.8,244.5 L227.8,262 L198.6,245 Z M198.6,236 L227.8,253"/><path fill="#fff" stroke="#000" stroke-width="0.7" fill-rule="evenodd" d="M163.3,216.1 L236.7,256.9 L236.7,295 L163.3,252.1 Z M166.1,220.2 L166.1,249.3 L232.6,288.1 L232.6,258.3 Z"/><path class="t" d="M164.8,217.5 L164.8,251.5 M167.5,221.5 L231.5,257 M167.5,247 L231.5,284 M168,245 L231,282 M234.8,258 L234.8,293.5"/><path fill="none" stroke="#000" stroke-width="0.6" d="M166.1,249.3 L232.6,288.1 M163.3,252.1 L236.7,295"/><path d="M164.5,218 L235,257.5" stroke="#666" stroke-width="1.8" stroke-dasharray="1,0.8" fill="none"/><path d="M167,250 L232,287.5" stroke="#555" stroke-width="1.6" stroke-dasharray="1.2,0.8" fill="none"/><path class="w" d="M184,226 L184,222.5 L187,223.5 L187,227.7"/><path class="w" d="M200,235 L200,231.5 L203,232.5 L203,236.7"/><path class="w" d="M214,243 L214,239.5 L217,240.5 L217,244.7"/><path class="w" d="M227,250 L227,246.5 L230,247.5 L230,251.7"/><path class="t" d="M166,227 L169,225 M166,234 L172,230 M168,240 L172,238"/><path d="M234.5,262 L234.5,290" stroke="#000" stroke-width="0.9" stroke-dasharray="1,1.4" fill="none"/><circle cx="237.8" cy="265.5" r="1" class="w"/><circle cx="238.5" cy="289.5" r="0.9" class="w"/><path class="t" d="M168,251 L230,287 M166,241 L167,243"/><path class="w" d="M191.7,267 L195,265.5 L200.7,268.5 L200.7,295 L197,293 L191.7,290 Z"/><path class="t" d="M194.5,266 L194.5,291.5 M192,276 L200.5,280 M196,283 L198,284"/><path class="t" d="M203,275 L206,273 L209,275"/><path d="M149.2,218.5 L149.2,223.5 M152.6,218.8 L152.6,223.5" stroke="#999" stroke-width="1.3" fill="none"/><path d="M148.6,218 L149.8,217.5 M151.8,218.2 L153,218" stroke="#000" stroke-width="0.8" fill="none"/><path class="w" d="M150.6,224 L150.6,233.3 L158.3,237.3 C159.8,237.7 160.7,236.8 160.6,235.3 L160.4,233.6 L151.6,228.6 L151.4,224 Z"/><path d="M150.6,224 L150.6,233.3" stroke="#000" stroke-width="1.3" fill="none"/><path class="t" d="M151.6,231 L159.5,235 M158.8,233 L158.8,236.8"/><path class="w" d="M148.6,241 L151,240 L156,243 L157.6,242 L157.6,265.5 L155,264.5 L151.5,262.5 L151.5,258 L148.6,256.5 Z"/><path class="t" d="M151,242 L151,262 M153,247 L156,248.5 L156,252 L153,250.5 Z M149,250 L157,254"/><path fill="#fff" stroke="#333" stroke-width="0.7" d="M113.6,245 C113.6,243.8 114.3,243.5 115.5,244 L187,284.5 C187.8,285 188.1,285.5 188.1,286.2 L188.1,323.6 L186.7,323.6 L174.2,316.5 L154.9,306 L113.6,284.2 Z"/><path d="M115,244.8 L187,285.5" stroke="#777" stroke-width="1.5" stroke-dasharray="0.8,0.7" fill="none"/><path class="t" d="M114,279.3 L186.7,318.5 M185.8,286.5 L185.8,323 M174.2,313 L174.2,316.5 L186.7,323.6"/><path class="m" d="M122.3,256.5 L176.3,285.6 L176.3,306.3 L122.3,276.5 Z"/><path class="t" d="M136.2,264.2 L136.2,283.5 M163.2,278.8 L163.2,299 M136.2,264.2 L163.2,278.8"/><path class="m" d="M136.2,282.8 L163.2,298 M137,281.2 L163,295.8"/><path class="t" d="M124,258 L124,277"/><path class="t" d="M154.2,303 L154.2,307.7 L155.8,308.2 L155.8,304"/><path class="w" d="M110.5,298 C110,296 111.5,295 113,295.6 L116,297 C117.5,298 117.5,300 116,301.5 L114,302.8 C112.5,303.5 111,302.5 110.5,301 Z"/><path class="m" d="M116,298.5 L120.2,296 M116.5,300.5 L120.5,298 M112,298 L115,299.5 M113,296 L113,303"/><path d="M111,297.5 L111,301.5 M114.5,297 L114.5,302" stroke="#000" stroke-width="1.3"/><path class="w" d="M143,318 C142.5,316 144,315 145.5,315.6 L148.5,317 C150,318 150,320 148.5,321.5 L146.5,322.8 C145,323.5 143.5,322.5 143,321 Z"/><path class="m" d="M148.5,318.5 L153.5,315 M149,320.5 L153.8,317 M144.5,318 L147.5,319.5 M145.5,316 L145.5,323"/><path d="M143.5,317.5 L143.5,321.5 M147,317 L147,322" stroke="#000" stroke-width="1.3"/></g>
<g id="p6"><path class="dd" d="M352,437 L389.4,457.3 L389.4,470"/><path class="dd" d="M409.5,412.5 L409.5,475"/><path class="dd" d="M402.5,441.5 L402.5,472"/><path class="dd" d="M377,489.3 L350,505.3"/><path class="dc" d="M381.4,493 L381.4,531"/><path class="dc" d="M398,511.5 L398,546"/><path fill="#fff" stroke="#000" stroke-width="1.3" d="M398,395.2 C400,393.5 402.5,393 404.8,393.1 C407.5,393.5 409.5,395 411.1,396.5 C413,398.5 413.8,400 413.6,401.5 C413.8,403.5 413.5,405.5 412.8,407 C411.5,409 410.5,410 409,410.4 C407,411 404.5,411 402.2,410.7 C400,410 398.8,409.2 398,407.9 C397,406 396.6,404 397,402 C397,399.5 397.3,397 398,395.2 Z"/><path class="m" d="M399,396.5 L403,398 L409,396 M403,398 L402.5,409.5 M406.5,398.5 L407,410 M409.5,397 L411,403 L410,409 M398,402 L402,404 M404.5,403 C405.5,401 408,401 408.5,403 L408.5,407 M399.5,405.5 C400.5,404 402,405 401.5,407"/><path d="M397.5,400 L398,406 M412,399 L413,404 M400,394.8 L404,393.6" stroke="#000" stroke-width="1.4" fill="none"/><path fill="#fff" stroke="#000" stroke-width="0.8" d="M358,406.3 L364.5,412.3 L358,410.6 Z"/><path class="t" d="M360,408 L359.5,411 M362,410 L361.5,411.8"/><ellipse cx="356.2" cy="407.3" rx="2" ry="3.1" fill="#fff" stroke="#000" stroke-width="0.9"/><path d="M354.5,405.5 L354.2,409.5" stroke="#000" stroke-width="1.2"/><path class="w" d="M369.7,416.5 L371,415 L398.8,426 L398.8,427 L404.8,426.5 L404.8,438 L397.1,440.5 L397.1,437 L374.7,426.5 L374.7,431.2 L372,431 L371.3,425.2 L369.7,424 Z"/><path class="m" d="M371,415 L371.3,425.2 M371,417.5 L397.1,429 L397.1,437 M397.1,429 L398.8,427"/><path class="t" d="M372,420 L396.5,431.5 M380,423 L380,428 M386,426 L386,431 M392,428.5 L392,433.5"/><path fill="#fff" stroke="#000" stroke-width="0.8" d="M373,408.9 L374.2,408.3 L378.5,410.8 L378.5,415.6 L373,413.1 Z"/><path d="M373.6,409.3 L373.6,412.9" stroke="#000" stroke-width="1.3"/><path fill="#fff" stroke="#000" stroke-width="0.8" d="M379.4,411.9 L380.59999999999997,411.3 L385.7,414.1 L385.7,418.8 L379.4,416.0 Z"/><path d="M380.0,412.3 L380.0,415.8" stroke="#000" stroke-width="1.3"/><path fill="#fff" stroke="#000" stroke-width="0.8" d="M386,413.8 L387.2,413.4 L389.5,415.0 L389.5,419.9 L386,418.3 Z"/><path d="M386.6,414.4 L386.6,418.0" stroke="#000" stroke-width="1.3"/><path fill="#fff" stroke="#000" stroke-width="0.8" d="M390.8,419.3 L392.0,418.5 L398.8,422.1 L398.8,428.4 L390.8,424.8 Z"/><path d="M391.40000000000003,419.5 L391.40000000000003,424.7" stroke="#000" stroke-width="1.3"/><circle cx="401.5" cy="432.5" r="1.2" class="w"/><path class="m" d="M395.9,438.6 L395.9,442 L398.4,442.3 L398.4,440"/><path fill="#fff" stroke="#000" stroke-width="1" d="M326.1,446.2 C327,444.5 329,443.5 331,443 L338.9,438.1 L360.6,449.6 L360.6,452.5 L358.6,457.1 L344.3,466.6 C340,466 334,462 330,458.5 L328.1,455.7 C327,452 326.3,449 326.1,446.2 Z"/><path class="m" d="M328.5,446.5 L339,440.5 L359,451 L344.3,458.5 Z"/><path class="t" d="M327.4,450.3 L344.3,460 L359.9,453.7 M336.5,442.5 L336.5,451.5 M339.8,441.3 L339.8,452 M344.3,460 L344.3,466.6 M330,452 L330,457"/><path fill="#bbb" stroke="none" d="M341,459.5 L346,461.5 L346,465.5 L341,463.5 Z"/><path d="M338.9,438.1 L360.6,449.6" stroke="#000" stroke-width="1.2"/><path fill="none" stroke="#000" stroke-width="0.9" d="M347.5,450.5 L347.5,434"/><path class="dd" d="M347.5,434 L370,446.2"/><path class="w" d="M356.8,468.4 L361.6,465.6 L368,465.2 L370.4,466.8 L370.4,476.4 L364,480.4 L357.6,478.8 L356,475.6 Z"/><path class="t" d="M356.8,468.4 L362,471 L370.4,466.8 M362,471 L362,479.5 M358,471 L358,476 M364,470 L369,472.5 M364,473 L369,475.5 M359,466.5 L366,470"/><path d="M361.2,466.5 L362.3,467.3 M365.5,472.5 L366.5,474 M360.5,476 L361.5,477 M357,473 L357.5,474.5" stroke="#000" stroke-width="1.6" fill="none"/><path class="w" d="M371.6,466 L371.6,459.6 C372.5,457.5 374.5,456.5 376,456.8 L377,462 L378,457.3 L379.2,457.6 L380.4,463.6 L382.4,462 L384,463.2 L384.4,468.4 L389.6,469.6 L391.5,470 L393.6,469.2 L394.5,472.5 L396,469.8 L397.5,474 L399,470 L400,471 L400,478 L390,476 L371.6,466 Z"/><path class="w" d="M370.4,469.2 L373,468 L392,478 L392,490 L389,491.5 L370.4,481 Z"/><path class="m" d="M370.4,469.2 L389,479.5 L389,491.5 M389,479.5 L392,478"/><path class="t" d="M372,472 L387.5,480.5 M372,474.5 L387.5,483 M372,477 L380,481.4 M382,483 L387.5,486 L387.5,490 L382,487 Z M374,470 L374,480"/><path d="M373,476 L375,477" stroke="#000" stroke-width="1.4"/><path class="t" d="M359.2,479.6 L373.6,489.2 L384.8,492"/><path class="w" d="M382.4,492.4 L388,489.5 L400,482 L412,479.6 L423.6,485.2 C426,487 428,490.5 428,494 C428,498 427.5,500 427.2,502 C426,504 424.5,505 423.2,505.2 L413.6,509.7 C411,511 409,511.8 407.2,511.6 L404,510.8 L384.8,499.6 Z"/><path class="m" d="M384.8,497.2 L404,507.6 L413.6,506.5 L424.8,501 M412,479.6 L412,489 M423.6,485.2 L424.4,497.2 M412,489 L424.4,496.5"/><path fill="#fff" stroke="#000" stroke-width="0.6" d="M400.5,471.5 L402,470.8 L404.2,472 L404.2,488.5 L400.5,487 Z M406.6,474 L408,473.3 L410.3,474.5 L410.3,490 L406.6,488.5 Z"/><path class="t" d="M393,473 L393,487 M396,472 L396,486"/><defs><clipPath id="pk"><ellipse cx="402.5" cy="496.5" rx="9.5" ry="5.5" transform="rotate(22 402.5 496.5)"/></clipPath></defs><ellipse cx="402.5" cy="496.5" rx="9.5" ry="5.5" fill="#fff" stroke="#000" stroke-width="1.2" transform="rotate(22 402.5 496.5)"/><g clip-path="url(#pk)"><path d="M382.4,489 L390.4,505" stroke="#000" stroke-width="0.6" fill="none"/><path d="M383.6,489 L391.6,505" stroke="#000" stroke-width="0.6" fill="none"/><path d="M384.8,489 L392.8,505" stroke="#000" stroke-width="0.6" fill="none"/><path d="M386.0,489 L394.0,505" stroke="#000" stroke-width="0.6" fill="none"/><path d="M387.2,489 L395.2,505" stroke="#000" stroke-width="0.6" fill="none"/><path d="M388.4,489 L396.4,505" stroke="#000" stroke-width="0.6" fill="none"/><path d="M389.6,489 L397.6,505" stroke="#000" stroke-width="0.6" fill="none"/><path d="M390.8,489 L398.8,505" stroke="#000" stroke-width="0.6" fill="none"/><path d="M392.0,489 L400.0,505" stroke="#000" stroke-width="0.6" fill="none"/><path d="M393.2,489 L401.2,505" stroke="#000" stroke-width="0.6" fill="none"/><path d="M394.4,489 L402.4,505" stroke="#000" stroke-width="0.6" fill="none"/><path d="M395.6,489 L403.6,505" stroke="#000" stroke-width="0.6" fill="none"/><path d="M396.8,489 L404.8,505" stroke="#000" stroke-width="0.6" fill="none"/><path d="M398.0,489 L406.0,505" stroke="#000" stroke-width="0.6" fill="none"/><path d="M399.2,489 L407.2,505" stroke="#000" stroke-width="0.6" fill="none"/><path d="M400.4,489 L408.4,505" stroke="#000" stroke-width="0.6" fill="none"/><path d="M401.6,489 L409.6,505" stroke="#000" stroke-width="0.6" fill="none"/><path d="M402.8,489 L410.8,505" stroke="#000" stroke-width="0.6" fill="none"/><path d="M393,492 C398,489 406,490 411,495 M394,495 C399,492 405,494 409,499" stroke="#000" stroke-width="1.1" fill="none"/><ellipse cx="404" cy="497.5" rx="3.5" ry="2.2" fill="#fff" stroke="#000" stroke-width="0.8" transform="rotate(22 404 497.5)"/></g><path class="m" d="M385,492.5 L389,491 L391,494 L388,495.5 Z M408,503 C409,501.5 411,502 411,503.5 C410.5,505 409,505 408,503 Z M415,496 L418,494.5 L418,499 L415,500.5 Z"/><path d="M416,496 L417,500 M397,505 C398,503.5 400,504 400,505.5 M388,493 L390,494" stroke="#000" stroke-width="1.3" fill="none"/><path fill="#fff" stroke="#000" stroke-width="1.4" d="M345.4,506.2 C345.8,505 346.5,504.6 347.5,505 L364,513 C365.3,513.6 365.7,514.5 365.7,515.5 L365,529.5 C364.5,532.5 362,535.5 359,537 L357,537.2 C355,537 353,536.5 351.5,535.7 C348,533 345,529 344.2,524.6 Z"/><path class="t" d="M347,507.5 L363.5,515.5 L363,529 C362,532 360,534 357.5,535 M347,507.5 L346,524"/><path d="M351.5,519 C350.5,521 351,523.5 352.5,524.5 C354,525 355.2,523.5 354.8,521.5 C354.3,520 352.5,520 352,521.5 M353.5,516.5 L354.5,517.5 M357.5,518 L359,518.8 M350.5,526 C350.5,527.5 352,528.3 353.5,527.5" stroke="#000" stroke-width="1" fill="none"/><path class="w" d="M370.6,524.6 L372,524 L389,532 L389,531 L391.5,532.5 L391.5,537 L388.5,539 L385,537.3 L384,543 L381.7,545.5 L375,542 L374.3,540.6 L374.3,535 L370.6,533 Z"/><path class="m" d="M370.6,526.5 L387,534.5 L387,538.5 M374.3,535 L384,540"/><circle cx="377.5" cy="538.5" r="1.4" class="w"/><path class="t" d="M388.5,532.5 L388.5,538 M389.5,535 C390,533.5 391,534 391,535.5"/><path fill="#fff" stroke="#000" stroke-width="1.1" d="M395,550 C394.5,548 396,546.8 398,546.9 C400.5,547.1 402.2,548.5 402.2,550.5 L401.8,553 C399.5,554.2 397,554 395.5,552.5 Z"/><path d="M396,549 L401,550 M396.5,547.5 L396.5,552.5 M398.8,547.5 L398.8,553.5 M401,548.5 L401,553" stroke="#000" stroke-width="0.9" fill="none"/><path fill="#fff" stroke="#000" stroke-width="0.9" d="M383.3,560.5 C383.5,559 385,558 387,558.3 L398,553.5 C400,553 401.8,554 401.6,556 C401.4,558 400,559 398.5,559.5 L389,564 L388,566.5 C387,568 384.5,568 383.5,566.5 Z"/><path class="t" d="M387,558.3 C386,560 386.5,562 388,563 M384,564 L388,565.5"/><path d="M397.5,554 C396.5,556 397,558 398.5,559.5 M395,555 C394,557 394.5,559 396,560.5" stroke="#000" stroke-width="1.1" fill="none"/><path fill="#fff" stroke="#000" stroke-width="0.8" d="M384,564.5 L384,567.8 C385,568.8 387,568.8 388,567.8 L388,564.5"/></g></svg>
</body></html>
